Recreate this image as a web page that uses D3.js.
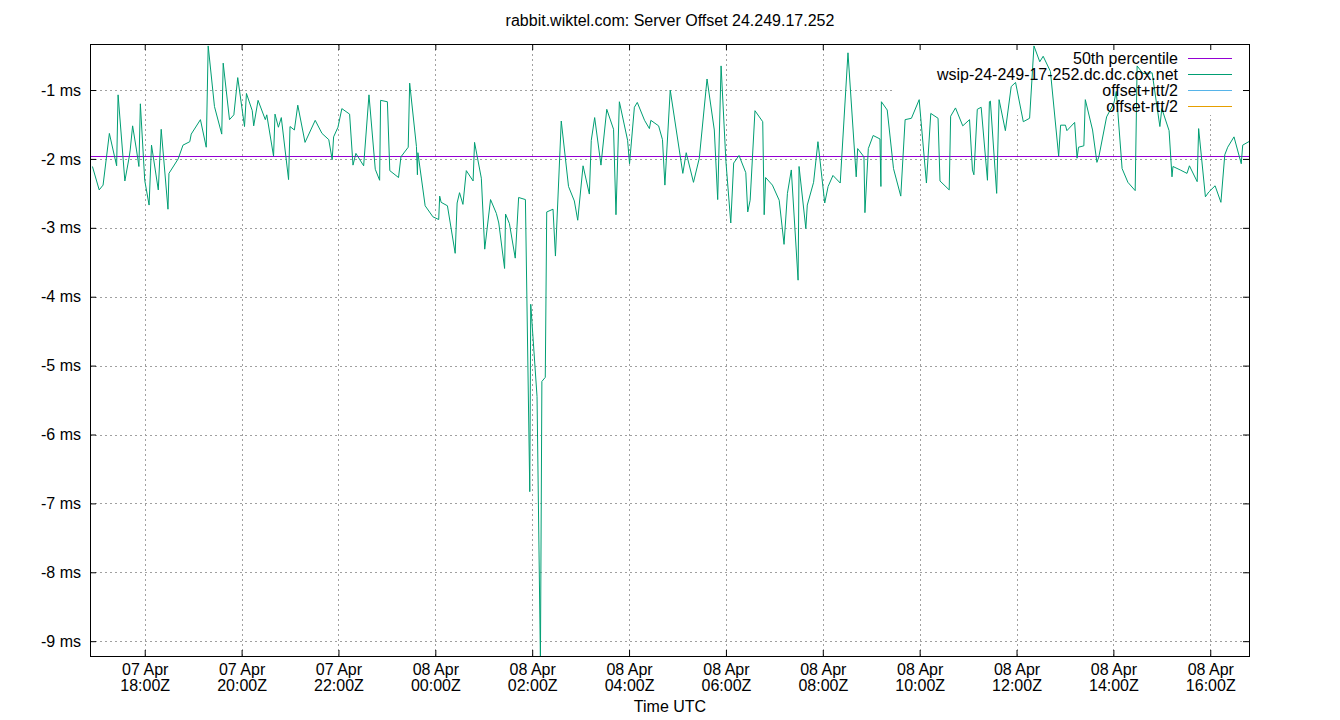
<!DOCTYPE html>
<html>
<head>
<meta charset="utf-8">
<script src="https://cdn.jsdelivr.net/npm/d3@7"></script>
<style>
body { margin: 0; background: #fff; }
text { font-family: "Liberation Sans", Arial, sans-serif; }
</style>
</head>
<body>
<svg id="chart" width="1340" height="720"></svg>
<script>
// hours since 07 Apr 00:00Z
var hours = [
	16.92, 17.06, 17.14, 17.27, 17.42, 17.45, 17.59, 17.68, 17.70, 17.75, 17.83, 17.88, 17.91, 18.00,
	18.09, 18.14, 18.28, 18.34, 18.48, 18.50, 18.69, 18.79, 18.93, 18.96, 19.15, 19.27, 19.31, 19.44,
	19.59, 19.62, 19.75, 19.84, 19.92, 20.06, 20.10, 20.22, 20.25, 20.34, 20.49, 20.52, 20.66, 20.69,
	20.76, 20.82, 20.97, 21.00, 21.09, 21.16, 21.31, 21.52, 21.66, 21.80, 21.87, 21.90, 21.99, 22.07,
	22.23, 22.30, 22.36, 22.52, 22.63, 22.76, 22.85, 22.87, 23.01, 23.06, 23.24, 23.29, 23.44, 23.47,
	23.61, 23.63, 23.64, 23.79, 23.95, 24.07, 24.09, 24.12, 24.25, 24.41, 24.45, 24.50, 24.57, 24.64,
	24.78, 24.81, 24.95, 25.02, 25.14, 25.26, 25.31, 25.43, 25.45, 25.53, 25.65, 25.72, 25.86, 25.95,
	25.97, 26.10, 26.17, 26.20, 26.27, 26.30, 26.43, 26.48, 26.60, 26.75, 26.87, 26.94, 27.05, 27.18,
	27.22, 27.29, 27.42, 27.54, 27.68, 27.73, 27.80, 27.97, 28.01, 28.11, 28.17, 28.32, 28.42, 28.45,
	28.61, 28.69, 28.74, 28.85, 29.11, 29.18, 29.33, 29.45, 29.61, 29.76, 29.83, 29.90, 30.00, 30.10,
	30.16, 30.27, 30.41, 30.45, 30.50, 30.60, 30.76, 30.79, 30.82, 30.96, 31.10, 31.20, 31.27, 31.35,
	31.49, 31.51, 31.65, 31.68, 31.81, 31.90, 32.04, 32.11, 32.21, 32.36, 32.52, 32.69, 32.72, 32.85,
	32.87, 32.94, 33.04, 33.18, 33.20, 33.21, 33.33, 33.46, 33.61, 33.70, 33.83, 33.99, 34.14, 34.23,
	34.38, 34.42, 34.61, 34.64, 34.74, 34.89, 35.03, 35.09, 35.12, 35.19, 35.27, 35.40, 35.44, 35.46,
	35.59, 35.64, 35.77, 35.89, 35.98, 36.14, 36.27, 36.36, 36.48, 36.55, 36.70, 36.87, 36.91, 37.01,
	37.04, 37.20, 37.25, 37.28, 37.39, 37.42, 37.57, 37.66, 37.70, 37.86, 38.01, 38.06, 38.18, 38.30,
	38.45, 38.49, 38.61, 38.80, 38.96, 39.00, 39.15, 39.21, 39.23, 39.38, 39.52, 39.57, 39.73, 39.76,
	39.90, 39.97, 40.10, 40.22, 40.30, 40.36, 40.49, 40.64, 40.67, 40.82
];

// offset in ms
var offsets = [
	-2.11, -2.45, -2.38, -1.63, -2.10, -1.07, -2.32, -1.97, -1.87, -1.52, -1.87, -2.11, -1.20, -2.31,
	-2.67, -1.80, -2.45, -1.57, -2.73, -2.21, -2.00, -1.80, -1.75, -1.64, -1.43, -1.83, -0.36, -1.24,
	-1.64, -0.61, -1.43, -1.36, -0.82, -1.53, -1.05, -1.30, -1.52, -1.15, -1.43, -1.36, -1.96, -1.35,
	-1.54, -1.40, -2.30, -1.53, -1.58, -1.22, -1.76, -1.44, -1.63, -1.72, -2.01, -1.68, -1.54, -1.27,
	-1.35, -2.09, -1.92, -2.10, -1.07, -2.15, -2.31, -1.15, -1.17, -2.17, -2.27, -1.97, -1.83, -0.90,
	-1.82, -2.23, -1.91, -2.68, -2.84, -2.88, -2.54, -2.63, -2.68, -3.37, -2.64, -2.49, -2.66, -2.17,
	-2.32, -1.76, -2.28, -3.31, -2.59, -2.79, -2.93, -3.59, -2.80, -2.94, -3.44, -2.56, -2.59, -6.83,
	-4.11, -5.45, -9.30, -5.23, -5.17, -2.77, -2.73, -3.41, -1.45, -2.40, -2.61, -2.89, -2.10, -2.51,
	-1.73, -1.40, -2.09, -1.28, -1.57, -2.81, -1.17, -1.73, -2.07, -1.25, -1.18, -1.44, -1.56, -1.44,
	-1.52, -1.72, -2.38, -1.00, -2.21, -1.91, -2.34, -1.99, -0.84, -1.58, -2.59, -0.65, -2.04, -2.93,
	-2.06, -1.95, -2.20, -2.77, -2.60, -1.30, -1.46, -2.81, -2.27, -2.38, -2.60, -3.24, -2.50, -2.16,
	-3.76, -2.11, -3.01, -2.67, -2.34, -1.75, -2.64, -2.40, -2.24, -2.35, -0.46, -2.26, -1.85, -1.97,
	-2.78, -1.85, -1.66, -1.71, -2.40, -1.17, -1.29, -2.14, -2.54, -1.43, -1.41, -1.14, -2.35, -1.34,
	-1.41, -2.32, -2.45, -1.38, -1.26, -1.52, -1.43, -2.16, -2.23, -1.28, -1.25, -2.31, -1.17, -1.16,
	-2.50, -1.14, -1.59, -0.95, -0.89, -1.46, -1.41, -0.36, -0.59, -0.51, -0.73, -1.96, -1.51, -1.51,
	-1.59, -1.47, -1.99, -1.83, -1.81, -1.14, -1.58, -2.05, -1.97, -1.39, -1.19, -1.02, -2.14, -2.34,
	-2.46, -0.65, -0.76, -0.75, -1.53, -1.27, -1.59, -2.26, -2.11, -2.16, -2.21, -2.10, -2.33, -1.56,
	-2.55, -2.48, -2.39, -2.63, -1.94, -1.83, -1.68, -2.07, -1.80, -1.74
];

var median = -1.958;

var yTicks = [-1, -2, -3, -4, -5, -6, -7, -8, -9];

var legendNames = ["50th percentile", "wsip-24-249-17-252.dc.dc.cox.net", "offset+rtt/2", "offset-rtt/2"];
var legendColors = ["#9400d3", "#009e73", "#56b4e9", "#e69f00"];

var base = Date.UTC(2024, 3, 7);
var toDate = function (h) { return new Date(base + h * 3600000); };

var margin = { left: 90, right: 91, top: 44, bottom: 64 };
var width = 1340 - margin.left - margin.right;
var height = 720 - margin.top - margin.bottom;

var svg = d3.select("#chart");
var g = svg.append("g").attr("transform", "translate(" + margin.left + "," + margin.top + ")");

var x = d3.scaleUtc().domain([toDate(16.87), toDate(40.80)]).range([0, width]);
var y = d3.scaleLinear().domain([-0.332, -9.215]).range([0, height]);

var xTicks = d3.range(18, 41, 2).map(toDate);

// grid
g.selectAll(".vgrid").data(xTicks).enter().append("line")
	.attr("x1", function (d) { return Math.round(x(d)) + 0.5; }).attr("x2", function (d) { return Math.round(x(d)) + 0.5; })
	.attr("y1", 0).attr("y2", height)
	.attr("stroke", "#a0a0a0").attr("stroke-dasharray", "2,3");
g.selectAll(".hgrid").data(yTicks).enter().append("line")
	.attr("x1", 0).attr("x2", width)
	.attr("y1", function (d) { return Math.round(y(d)) + 0.5; }).attr("y2", function (d) { return Math.round(y(d)) + 0.5; })
	.attr("stroke", "#a0a0a0").attr("stroke-dasharray", "2,3");

// opaque legend box
g.append("rect").attr("x", 802).attr("y", 0).attr("width", width - 802).attr("height", 71).attr("fill", "#fff");

g.append("clipPath").attr("id", "clip").append("rect").attr("width", width).attr("height", height);

g.append("line")
	.attr("x1", 0).attr("x2", width).attr("y1", Math.round(y(median)) + 0.5).attr("y2", Math.round(y(median)) + 0.5)
	.attr("stroke", legendColors[0]);

var line = d3.line()
	.x(function (d, i) { return x(toDate(hours[i])); })
	.y(function (d) { return y(d); });

g.append("path").datum(offsets)
	.attr("d", line).attr("clip-path", "url(#clip)")
	.attr("fill", "none").attr("stroke", legendColors[1]).attr("stroke-width", 1);

// axes
var fmtDay = d3.utcFormat("%d %b");
var fmtTime = d3.utcFormat("%H:%MZ");

var xAxis = g.append("g").attr("transform", "translate(0," + height + ")")
	.call(d3.axisBottom(x).tickValues(xTicks).tickSize(-6).tickFormat(""));
var xAxisTop = g.append("g").call(d3.axisTop(x).tickValues(xTicks).tickSize(-6).tickFormat(""));
var yAxis = g.append("g").call(d3.axisLeft(y).tickValues(yTicks).tickSize(-6)
	.tickFormat(function (d) { return d + " ms"; }));
var yAxisR = g.append("g").attr("transform", "translate(" + width + ",0)")
	.call(d3.axisRight(y).tickValues(yTicks).tickSize(-6).tickFormat(""));

[xAxis, xAxisTop, yAxis, yAxisR].forEach(function (a) {
	a.select(".domain").remove();
	a.selectAll(".tick line").attr("stroke", "#000");
});
yAxis.selectAll(".tick text").attr("x", -9).attr("font-size", 16)
	.attr("font-family", "Liberation Sans, Arial, sans-serif").attr("fill", "#000");

xAxis.selectAll(".tick").each(function (d) {
	var t = d3.select(this);
	t.append("text").attr("y", 19).attr("text-anchor", "middle").attr("font-size", 16)
		.attr("fill", "#000").text(fmtDay(d));
	t.append("text").attr("y", 35).attr("text-anchor", "middle").attr("font-size", 16)
		.attr("fill", "#000").text(fmtTime(d));
});

g.append("rect").attr("x", 0.5).attr("y", 0.5).attr("width", width).attr("height", height)
	.attr("fill", "none").attr("stroke", "#000");

// legend
var leg = g.selectAll(".leg").data(legendNames).enter().append("g")
	.attr("transform", function (d, i) { return "translate(0," + (14.5 + i * 16) + ")"; });
leg.append("text").attr("x", 1088).attr("dy", "0.35em").attr("text-anchor", "end")
	.attr("font-size", 16).text(function (d) { return d; });
leg.append("line").attr("x1", 1098).attr("x2", 1142)
	.attr("stroke", function (d, i) { return legendColors[i]; });

svg.append("text").attr("x", 670).attr("y", 26).attr("text-anchor", "middle")
	.attr("font-size", 16).text("rabbit.wiktel.com: Server Offset 24.249.17.252");
svg.append("text").attr("x", 670).attr("y", 712).attr("text-anchor", "middle")
	.attr("font-size", 16).text("Time UTC");
</script>
</body>
</html>
